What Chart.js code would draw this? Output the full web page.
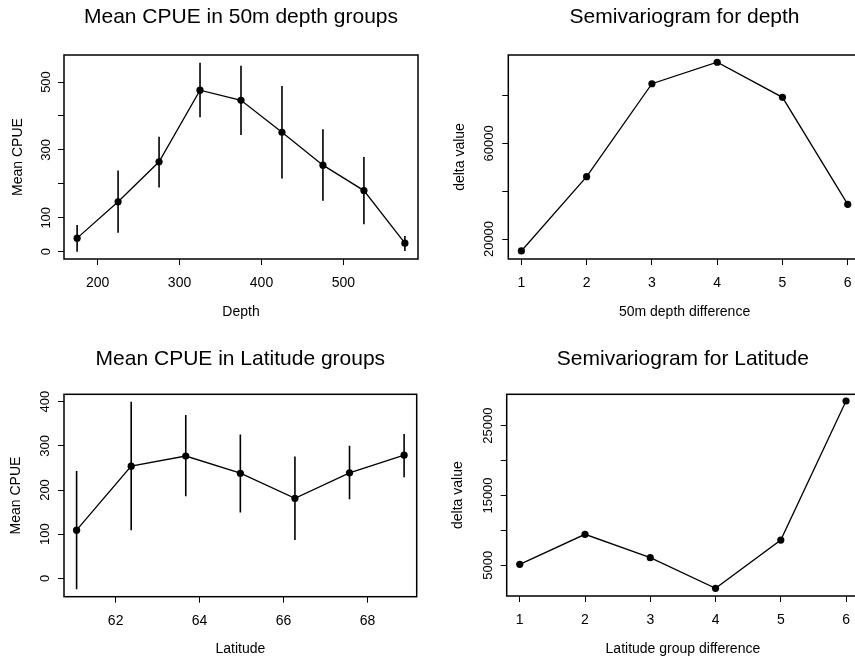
<!DOCTYPE html>
<html>
<head>
<meta charset="utf-8">
<script src="https://cdn.jsdelivr.net/npm/chart.js@4/dist/chart.umd.min.js"></script>
<style>
  html, body { margin: 0; padding: 0; background: #fff; overflow: hidden; width: 855px; height: 661px; }
  canvas { position: absolute; }
</style>
</head>
<body>
<canvas id="depthMean" width="430" height="330" style="left:0;top:0"></canvas>
<canvas id="depthVario" width="440" height="330" style="left:430px;top:0"></canvas>
<canvas id="latMean" width="430" height="331" style="left:0;top:330px"></canvas>
<canvas id="latVario" width="440" height="331" style="left:430px;top:330px"></canvas>
<script>
// depth groups (50m)
var depthX = [175, 225, 275, 325, 375, 425, 475, 525, 575];
var depthMean = [40, 147, 265, 476, 446, 352, 255, 180, 25];
var depthUpper = [79, 239, 339, 557, 548, 488, 361, 279, 46];
var depthLower = [0, 56, 189, 396, 344, 216, 150, 81, 2];
var depthTicksX = [200, 300, 400, 500];
var depthTicksY = [0, 100, 200, 300, 400, 500];
var depthLabelsY = [0, 100, 300, 500];

// semivariogram for depth
var depthLag = [1, 2, 3, 4, 5, 6];
var depthDelta = [15000, 46100, 85000, 94000, 79300, 34500];
var depthDeltaTicks = [20000, 40000, 60000, 80000];
var depthDeltaLabels = [20000, 60000];

// latitude groups
var latX = [61.07, 62.37, 63.67, 64.97, 66.27, 67.57, 68.87];
var latMean = [109, 254, 277, 238, 181, 239, 279];
var latUpper = [243, 400, 370, 326, 276, 300, 327];
var latLower = [-25, 109, 186, 149, 87, 179, 229];
var latTicksX = [62, 64, 66, 68];
var latTicksY = [0, 100, 200, 300, 400];

// semivariogram for latitude
var latLag = [1, 2, 3, 4, 5, 6];
var latDelta = [5140, 9440, 6090, 1700, 8620, 28540];
var latDeltaTicks = [5000, 10000, 15000, 20000, 25000];
var latDeltaLabels = [5000, 15000, 25000];

var FONT = '"Liberation Sans", Arial, Helvetica, sans-serif';

var framePlugin = {
  id: 'frame',
  afterDraw: function (chart) {
    var a = chart.chartArea, ctx = chart.ctx;
    ctx.save();
    ctx.strokeStyle = '#000';
    ctx.lineWidth = 1.5;
    ctx.strokeRect(a.left, a.top, a.right - a.left, a.bottom - a.top);
    ctx.restore();
  }
};

function toPoints(xs, ys) {
  return xs.map(function (x, i) { return {x: x, y: ys[i]}; });
}

function errorBars(xs, lo, hi) {
  var pts = [];
  xs.forEach(function (x, i) {
    pts.push({x: x, y: lo[i]}, {x: x, y: hi[i]}, {x: x, y: null});
  });
  return pts;
}

function fixedTicks(values) {
  return function (scale) {
    scale.ticks = values.map(function (v) { return {value: v}; });
  };
}

function makePanel(id, p) {
  var datasets = [];
  if (p.bars) {
    datasets.push({
      data: p.bars, showLine: true, borderColor: '#000', borderWidth: 1.6,
      pointRadius: 0, spanGaps: false
    });
  }
  datasets.push({
    data: p.points, showLine: true, borderColor: '#000', borderWidth: 1.3,
    pointRadius: 3.6, pointBackgroundColor: '#000', pointBorderColor: '#000', pointBorderWidth: 0
  });

  new Chart(document.getElementById(id), {
    type: 'scatter',
    data: {datasets: datasets},
    plugins: [framePlugin],
    options: {
      responsive: false,
      animation: false,
      events: [],
      layout: {padding: {left: 0, right: p.padRight, top: 0, bottom: 0}},
      plugins: {
        legend: {display: false},
        tooltip: {enabled: false},
        title: {
          display: true, text: p.title, fullSize: false, color: '#000',
          font: {family: FONT, size: 21, weight: 'normal'},
          padding: {top: p.titleTop, bottom: p.titleBottom}
        }
      },
      scales: {
        x: {
          type: 'linear', min: p.xMin, max: p.xMax,
          afterBuildTicks: fixedTicks(p.xTicks),
          afterFit: function (s) { s.height = p.xAxisH; },
          grid: {drawOnChartArea: false, drawTicks: true, tickLength: 6, color: '#000', lineWidth: 1},
          border: {display: false},
          ticks: {
            autoSkip: false, maxRotation: 0, padding: 10, color: '#000',
            font: {family: FONT, size: 14},
            callback: function (v) { return String(v); }
          },
          title: {
            display: true, text: p.xTitle, color: '#000',
            font: {family: FONT, size: 14}, padding: {top: 0, bottom: p.xTitlePad}
          }
        },
        y: {
          type: 'linear', min: p.yMin, max: p.yMax,
          afterBuildTicks: fixedTicks(p.yTicks),
          afterFit: function (s) { s.width = p.yAxisW; },
          grid: {drawOnChartArea: false, drawTicks: true, tickLength: 6, color: '#000', lineWidth: 1},
          border: {display: false},
          ticks: {
            autoSkip: false, minRotation: 90, maxRotation: 90, crossAlign: 'center',
            padding: p.yTickPad, color: '#000',
            font: {family: FONT, size: 13},
            callback: function (v) { return p.yLabels.indexOf(v) >= 0 ? String(v) : ''; }
          },
          title: {
            display: true, text: p.yTitle, color: '#000',
            font: {family: FONT, size: 14}, padding: {top: p.yTitlePad, bottom: 0}
          }
        }
      }
    }
  });
}

makePanel('depthMean', {
  title: 'Mean CPUE in 50m depth groups', xTitle: 'Depth', yTitle: 'Mean CPUE',
  points: toPoints(depthX, depthMean), bars: errorBars(depthX, depthLower, depthUpper),
  xMin: 159, xMax: 591, xTicks: depthTicksX,
  yMin: -21.5, yMax: 579.6, yTicks: depthTicksY, yLabels: depthLabelsY,
  padRight: 12, yAxisW: 64, xAxisH: 71, titleTop: 4.9, titleBottom: 24.9,
  xTitlePad: 9.6, yTitlePad: 9.6, yTickPad: 1.2
});

makePanel('depthVario', {
  title: 'Semivariogram for depth', xTitle: '50m depth difference', yTitle: 'delta value',
  points: toPoints(depthLag, depthDelta),
  xMin: 0.8, xMax: 6.2, xTicks: depthLag,
  yMin: 11630, yMax: 97030, yTicks: depthDeltaTicks, yLabels: depthDeltaLabels,
  padRight: 9.2, yAxisW: 78.3, xAxisH: 71, titleTop: 4.9, titleBottom: 24.9,
  xTitlePad: 9.6, yTitlePad: 21.6, yTickPad: -4.8
});

makePanel('latMean', {
  title: 'Mean CPUE in Latitude groups', xTitle: 'Latitude', yTitle: 'Mean CPUE',
  points: toPoints(latX, latMean), bars: errorBars(latX, latLower, latUpper),
  xMin: 60.77, xMax: 69.17, xTicks: latTicksX,
  yMin: -41.7, yMax: 416.8, yTicks: latTicksY, yLabels: latTicksY,
  padRight: 13.3, yAxisW: 64, xAxisH: 64.3, titleTop: 16.4, titleBottom: 22.7,
  xTitlePad: 3.6, yTitlePad: 7.6, yTickPad: 2.2
});

makePanel('latVario', {
  title: 'Semivariogram for Latitude', xTitle: 'Latitude group difference', yTitle: 'delta value',
  points: toPoints(latLag, latDelta),
  xMin: 0.8, xMax: 6.2, xTicks: latLag,
  yMin: 600, yMax: 29500, yTicks: latDeltaTicks, yLabels: latDeltaLabels,
  padRight: 10.9, yAxisW: 76.7, xAxisH: 65, titleTop: 16.4, titleBottom: 22.7,
  xTitlePad: 3.6, yTitlePad: 19.6, yTickPad: -5.3
});
</script>
</body>
</html>
